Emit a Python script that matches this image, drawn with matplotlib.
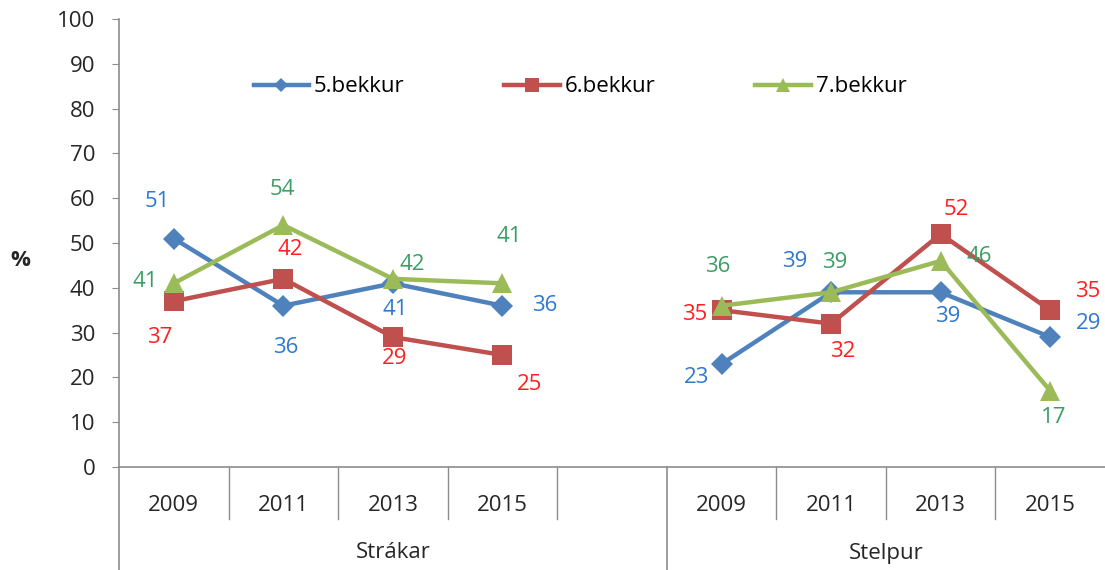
import numpy as np
import matplotlib
matplotlib.use("Agg")
import matplotlib.pyplot as plt
import matplotlib.transforms as mtransforms

# ---- data ----
years = ["2009", "2011", "2013", "2015", "", "2009", "2011", "2013", "2015"]
groups = ["Strákar", "Stelpur"]
group_slots = [(0, 4), (5, 8)]   # first / last slot of each group (slot 4 is empty)

bekkur5 = [51, 36, 41, 36, np.nan, 23, 39, 39, 29]
bekkur6 = [37, 42, 29, 25, np.nan, 35, 32, 52, 35]
bekkur7 = [41, 54, 42, 41, np.nan, 36, 39, 46, 17]

# label offsets in pixels (dx, dy) relative to each point
off5 = [(-16, 37), (2, -42), (2, -26), (42, 0), None, (-25, -14), (-36, 31), (7, -24), (38, 14)]
off6 = [(-14, -36), (7, 29), (2, -21), (27, -30), None, (-27, -4), (12, -28), (16, 25), (37, 19)]
off7 = [(-29, 2), (-1, 36), (19, 14), (7, 47), None, (-4, 39), (4, 30), (39, 4), (3, -27)]

plt.rcParams["font.family"] = ["Open Sans", "DejaVu Sans"]
FS = 16
GRAY = "#8c8c8c"
TXT = "#262626"

W, H = 1105, 570
fig = plt.figure(figsize=(W / 100, H / 100), dpi=100)
x0, x1, y0, y1 = 119, 1105, 19, 467
ax = fig.add_axes([x0 / W, (H - y1) / H, (x1 - x0) / W, (y1 - y0) / H])

x = np.arange(len(years))
series = [
    ("5.bekkur", bekkur5, off5, "#4f81bd", "#2e78d2", "D", 11.5, 0.6),
    ("6.bekkur", bekkur6, off6, "#c0504d", "#ff1f1f", "s", 15, 0.7),
    ("7.bekkur", bekkur7, off7, "#9bbb59", "#3a9e64", "^", 14, 0.7),
]

handles = []
for name, vals, offs, col, lcol, mk, ms, lscale in series:
    ax.plot(x, vals, color=col, lw=3.2, marker=mk, markersize=ms,
            markeredgewidth=0, solid_joinstyle="round")
    # legend proxy with smaller marker
    h, = ax.plot([], [], color=col, lw=3.2, marker=mk, markersize=ms * lscale,
                 markeredgewidth=0, label=name)
    handles.append(h)
    for xi, v, o in zip(x, vals, offs):
        if o is None or np.isnan(v):
            continue
        ax.annotate(f"{v:.0f}", (xi, v), xytext=o, textcoords="offset pixels",
                    ha="center", va="center", color=lcol, fontsize=FS)

ax.set_xlim(-0.5, len(years) - 0.5)
ax.set_ylim(0, 100)
ax.set_yticks(range(0, 101, 10))
ax.tick_params(axis="y", length=5, color=GRAY, labelsize=FS, labelcolor=TXT, pad=12)
ax.set_xticks(x)
ax.set_xticklabels(years)
ax.tick_params(axis="x", length=0, labelsize=FS, labelcolor=TXT, pad=20)

for s in ["top", "right"]:
    ax.spines[s].set_visible(False)
for s in ["left", "bottom"]:
    ax.spines[s].set_color(GRAY)
    ax.spines[s].set_linewidth(1.2)

# category separators and group separators below the axis
trans = mtransforms.blended_transform_factory(ax.transData, ax.transAxes)
ph = y1 - y0
for b in [0.5, 1.5, 2.5, 3.5, 5.5, 6.5, 7.5]:
    ax.plot([b, b], [0, -52 / ph], transform=trans, color=GRAY, lw=1, clip_on=False)
for b in [-0.5, 4.5]:
    ax.plot([b, b], [0, -104 / ph], transform=trans, color=GRAY, lw=1.2, clip_on=False)

for g, (a, b) in zip(groups, group_slots):
    ax.text((a + b) / 2, -86 / ph, g, transform=trans, ha="center", va="center",
            fontsize=FS, color=TXT)

fig.text(20 / W, 1 - 261 / H, "%", ha="center", va="center", fontsize=FS,
         fontweight="bold", color=TXT)

ax.legend(handles=handles, loc="center",
          bbox_to_anchor=((580 - x0) / (x1 - x0), (y1 - 87) / ph),
          ncol=3, frameon=False, fontsize=FS, handlelength=2.48, handletextpad=0.23,
          columnspacing=4.5)

fig.savefig("out.png", dpi=100)
